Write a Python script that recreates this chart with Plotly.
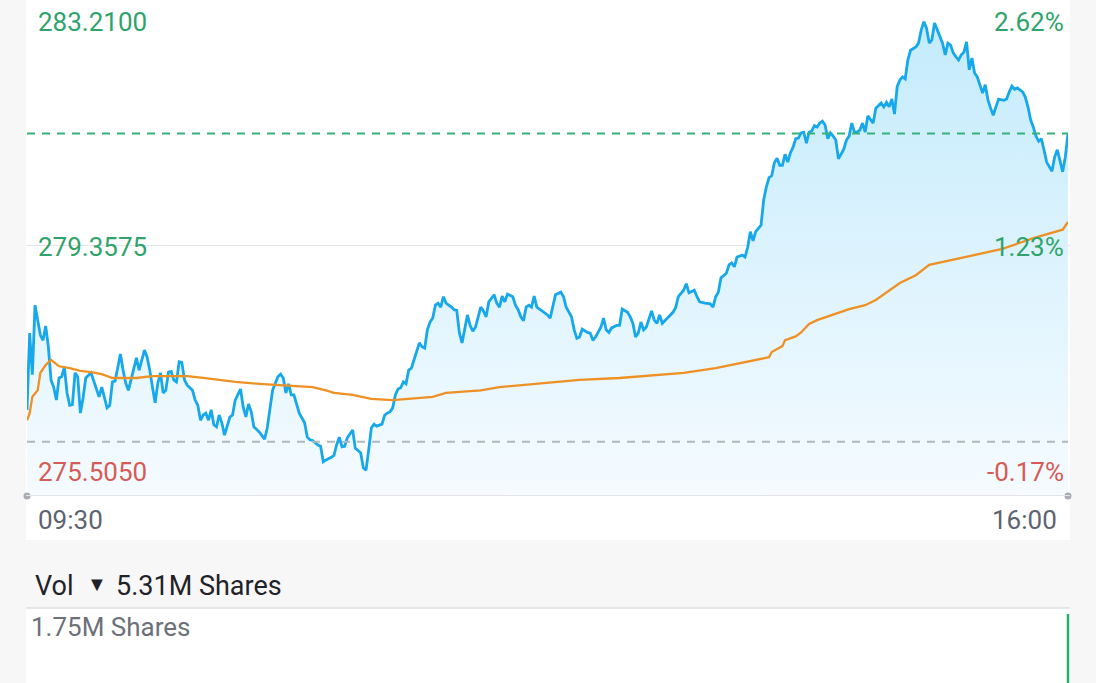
import pandas as pd
import plotly.graph_objects as go

# intraday price, minutes after 09:30
minute = [0, 1, 2, 3, 5, 6, 7, 8, 9, 10, 11, 12, 13, 14, 15, 16, 17, 18, 19, 20, 21, 22, 24, 26, 27, 28, 29, 30,
          31, 32, 33, 35, 36, 37, 38, 40, 41, 42, 43, 44, 45, 46, 47, 48, 49, 50, 51, 52, 53, 54, 55, 56, 57, 58,
          59, 60, 62, 63, 64, 65, 66, 67, 68, 69, 70, 71, 72, 73, 74, 75, 76, 77, 78, 80, 81, 82, 83, 84, 85, 87,
          88, 89, 90, 91, 92, 94, 95, 96, 97, 98, 99, 100, 101, 102, 104, 105, 106, 107, 109, 110, 111, 112, 114,
          115, 116, 117, 118, 119, 120, 122, 123, 124, 125, 126, 127, 128, 129, 130, 131, 133, 134, 135, 136, 137,
          138, 139, 140, 141, 142, 143, 144, 145, 146, 147, 148, 149, 150, 151, 152, 153, 154, 155, 156, 157, 159,
          160, 161, 162, 163, 164, 165, 166, 167, 168, 169, 170, 171, 172, 173, 175, 176, 177, 178, 179, 180, 182,
          183, 184, 185, 186, 187, 188, 189, 190, 191, 192, 194, 195, 196, 197, 198, 200, 201, 202, 204, 205, 206,
          207, 208, 210, 211, 212, 213, 215, 216, 217, 218, 219, 221, 222, 223, 225, 226, 227, 228, 229, 230, 231,
          232, 234, 235, 236, 237, 238, 240, 242, 243, 244, 246, 247, 248, 250, 251, 252, 254, 256, 257, 258, 259,
          260, 262, 263, 264, 265, 266, 268, 269, 270, 271, 272, 273, 274, 275, 276, 277, 278, 279, 280, 281, 282,
          283, 284, 285, 286, 287, 288, 289, 290, 291, 292, 293, 294, 295, 296, 297, 298, 299, 300, 301, 302, 303,
          304, 305, 306, 307, 308, 309, 310, 311, 312, 313, 314, 315, 316, 317, 318, 320, 321, 322, 323, 324, 325,
          326, 327, 328, 329, 330, 331, 333, 334, 335, 336, 337, 338, 339, 340, 341, 343, 344, 345, 346, 347, 348,
          349, 350, 351, 352, 353, 354, 355, 356, 357, 358, 359, 360, 361, 362, 363, 364, 366, 367, 368, 369, 370,
          371, 373, 374, 375, 376, 377, 378, 379, 380, 381, 382, 384, 385, 386, 387, 388, 389, 390]
price = [276.83, 278.01, 277.37, 278.44, 277.98, 277.90, 278.12, 277.80, 277.29, 277.18, 276.98, 277.32, 277.34,
         277.49, 277.09, 276.90, 276.91, 277.40, 277.34, 276.78, 277.01, 277.32, 277.40, 277.14, 277.03, 277.18,
         277.03, 276.86, 276.90, 277.26, 277.27, 277.69, 277.44, 277.24, 277.13, 277.44, 277.63, 277.44, 277.60,
         277.75, 277.64, 277.44, 277.18, 276.94, 277.24, 277.40, 277.09, 277.13, 277.41, 277.42, 277.29, 277.26,
         277.57, 277.56, 277.29, 277.21, 277.13, 276.98, 276.90, 276.67, 276.75, 276.78, 276.67, 276.83, 276.60,
         276.57, 276.75, 276.63, 276.44, 276.57, 276.72, 276.75, 276.98, 277.15, 276.87, 276.72, 276.92, 276.80,
         276.57, 276.49, 276.44, 276.38, 276.55, 276.83, 277.13, 277.34, 277.38, 277.32, 277.09, 277.23, 277.06,
         277.06, 276.90, 276.78, 276.63, 276.41, 276.37, 276.36, 276.29, 276.27, 276.03, 276.06, 276.10, 276.13,
         276.29, 276.41, 276.26, 276.27, 276.40, 276.52, 276.24, 276.21, 276.17, 275.94, 275.90, 276.21, 276.55,
         276.61, 276.58, 276.61, 276.75, 276.78, 276.80, 276.86, 277.06, 277.15, 277.17, 277.26, 277.23, 277.44,
         277.47, 277.60, 277.75, 277.86, 277.80, 277.78, 278.06, 278.18, 278.24, 278.44, 278.47, 278.41, 278.57,
         278.47, 278.41, 278.37, 278.36, 278.01, 277.86, 278.10, 278.29, 278.13, 278.04, 278.10, 278.26, 278.41,
         278.35, 278.26, 278.49, 278.60, 278.47, 278.41, 278.58, 278.49, 278.61, 278.57, 278.44, 278.37, 278.26,
         278.20, 278.41, 278.44, 278.41, 278.58, 278.41, 278.38, 278.33, 278.29, 278.24, 278.41, 278.60, 278.64,
         278.57, 278.41, 278.26, 278.06, 277.93, 277.95, 278.07, 278.02, 278.01, 277.90, 277.95, 278.10, 278.24,
         278.06, 278.02, 278.09, 278.13, 278.13, 278.38, 278.33, 278.26, 278.16, 277.95, 278.01, 278.18, 278.06,
         278.10, 278.35, 278.21, 278.16, 278.29, 278.16, 278.24, 278.33, 278.40, 278.57, 278.67, 278.77, 278.63,
         278.67, 278.57, 278.49, 278.47, 278.46, 278.41, 278.57, 278.64, 278.86, 278.93, 279.06, 279.09, 279.03,
         279.18, 279.21, 279.18, 279.33, 279.57, 279.43, 279.57, 279.63, 279.67, 280.06, 280.26, 280.40, 280.43,
         280.63, 280.70, 280.59, 280.59, 280.76, 280.64, 280.78, 280.87, 281.00, 281.01, 281.09, 281.10, 280.93,
         281.10, 281.12, 281.20, 281.18, 281.24, 281.27, 281.21, 281.00, 281.09, 281.04, 280.98, 280.69, 280.76,
         280.84, 280.98, 281.04, 281.24, 281.10, 281.10, 281.13, 281.24, 281.10, 281.35, 281.30, 281.24, 281.47,
         281.55, 281.49, 281.56, 281.49, 281.61, 281.38, 281.80, 281.90, 281.95, 281.92, 282.21, 282.36, 282.41,
         282.47, 282.67, 282.80, 282.70, 282.47, 282.52, 282.78, 282.67, 282.47, 282.29, 282.47, 282.44, 282.32,
         282.26, 282.21, 282.29, 282.33, 282.49, 282.06, 282.24, 282.01, 281.95, 281.83, 281.70, 281.83, 281.60,
         281.47, 281.36, 281.49, 281.61, 281.59, 281.61, 281.72, 281.81, 281.76, 281.78, 281.72, 281.64, 281.49,
         281.29, 281.18, 281.04, 280.96, 281.00, 280.83, 280.64, 280.50, 280.72, 280.83, 280.67, 280.49, 280.72,
         281.08]

# average price line
vwap_minute = [0, 1, 2, 4, 5, 7, 9, 12, 16, 20, 24, 28, 32, 41, 47, 54, 60, 66, 72, 78, 87, 99, 107, 112, 115,
               122, 129, 137, 144, 152, 157, 170, 177, 192, 207, 222, 237, 246, 258, 267, 275, 278, 279, 283, 284,
               288, 290, 293, 296, 302, 308, 314, 318, 327, 333, 338, 352, 365, 377, 388, 390]
vwap = [276.67, 276.78, 277.03, 277.13, 277.40, 277.52, 277.60, 277.50, 277.47, 277.43, 277.41, 277.38, 277.32,
        277.32, 277.35, 277.35, 277.35, 277.32, 277.29, 277.26, 277.23, 277.20, 277.18, 277.13, 277.09, 277.06,
        277.00, 276.98, 277.00, 277.03, 277.09, 277.13, 277.18, 277.24, 277.29, 277.32, 277.37, 277.40, 277.47,
        277.55, 277.61, 277.64, 277.72, 277.81, 277.90, 277.96, 278.02, 278.15, 278.21, 278.29, 278.38, 278.44,
        278.52, 278.78, 278.90, 279.06, 279.18, 279.30, 279.47, 279.60, 279.72]

vol_minute = [390]
volume = [1.75e6]

hi = 283.21
lo = 275.505
base_close = 275.97
last_price = 281.08
ref_price = 276.34
total_vol = "5.31M Shares"
vol_axis_label = "1.75M Shares"
time_labels = ["09:30", "16:00"]

W, H = 1096, 683
GREEN = "#2fa36b"
RED = "#d65a55"
BLUE = "#16a8ea"
ORANGE = "#ef9024"

day = pd.Timestamp("2024-01-02 09:30")
t = day + pd.to_timedelta(minute, unit="min")
tv = day + pd.to_timedelta(vwap_minute, unit="min")
tvol = day + pd.to_timedelta(vol_minute, unit="min")
t0, t1 = day, day + pd.Timedelta(minutes=390)

def py(p):
    return 1 - p / H

mid = (hi + lo) / 2
y_top = hi - (hi - lo) * 5 / 501
# a little room on the right of the volume axis so the last bar is not cut
px_per_min = (1068 - 27) / 390
t1_vol = t1 + pd.Timedelta(seconds=4 / px_per_min * 60)

fig = go.Figure()

fig.add_trace(go.Scatter(
    x=t, y=price, mode="lines",
    line=dict(color=BLUE, width=2.8),
    fill="tozeroy",
    fillgradient=dict(type="vertical", start=lo, stop=282.8,
                      colorscale=[[0, "rgb(245,251,255)"], [1, "rgb(196,235,252)"]]),
    showlegend=False, hoverinfo="skip"))
fig.add_trace(go.Scatter(
    x=tv, y=vwap, mode="lines",
    line=dict(color=ORANGE, width=2.3),
    showlegend=False, hoverinfo="skip"))
# end dots on the time axis
fig.add_trace(go.Scatter(
    x=[t0, t1], y=[lo, lo], mode="markers",
    marker=dict(color="#a9adb3", size=7),
    cliponaxis=False, showlegend=False, hoverinfo="skip"))

# volume bars drawn as vertical strokes
for tt, v in zip(tvol, volume):
    fig.add_trace(go.Scatter(
        x=[tt, tt], y=[0, v], mode="lines", line=dict(color="#2bab6c", width=2.5),
        xaxis="x2", yaxis="y2", showlegend=False, hoverinfo="skip"))

shapes = [
    # white panels
    dict(type="rect", xref="paper", yref="paper", x0=26 / W, x1=1070 / W, y0=py(540), y1=1,
         fillcolor="white", line=dict(width=0), layer="below"),
    dict(type="rect", xref="paper", yref="paper", x0=26 / W, x1=1070 / W, y0=0, y1=py(608),
         fillcolor="white", line=dict(width=0), layer="below"),
    dict(type="line", xref="paper", yref="paper", x0=26 / W, x1=1070 / W, y0=py(608), y1=py(608),
         line=dict(color="#dedfe2", width=1.5)),
    # middle grid
    dict(type="line", xref="paper", yref="y", x0=26 / W, x1=1070 / W, y0=mid, y1=mid,
         line=dict(color="#e3e5e8", width=1), layer="below"),
    # bottom axis line
    dict(type="line", xref="paper", yref="y", x0=26 / W, x1=1070 / W, y0=lo, y1=lo,
         line=dict(color="#e4e5e7", width=2)),
    dict(type="line", xref="x", yref="y", x0=t0, x1=t1, y0=ref_price, y1=ref_price,
         line=dict(color="#b1b7c1", width=2, dash="8px,7px")),
    dict(type="line", xref="x", yref="y", x0=t0, x1=t1, y0=last_price, y1=last_price,
         line=dict(color="#35b27a", width=2, dash="8px,7px")),
]

FONT = "Roboto"
ann = []
def label(text, x, y, color, size=26, anchor="left"):
    ann.append(dict(text=text, x=x / W, y=py(y), xref="paper", yref="paper", showarrow=False,
                    xanchor=anchor, yanchor="middle", font=dict(family=FONT, size=size, color=color)))

def pct(v):
    return f"{(v / base_close - 1) * 100:.2f}%"

label(f"{hi:.4f}", 36, 22, GREEN)
label(f"{mid:.4f}", 36, 247, GREEN)
label(f"{lo:.4f}", 36, 472, RED)
label(pct(hi), 1066, 22, GREEN, anchor="right")
label(pct(mid), 1066, 247, GREEN, anchor="right")
label(pct(lo), 1066, 472, RED, anchor="right")
label(time_labels[0], 36, 520, "#5d6370")
label(time_labels[1], 1059, 520, "#5d6370", anchor="right")
label("Vol", 33, 586, "#1f2329", size=27)
label("▼", 85, 584, "#1f2329", size=20)
label(total_vol, 114, 586, "#1f2329", size=27)
label(vol_axis_label, 29, 627, "#6b7079", size=26)

fig.update_layout(
    width=W, height=H,
    margin=dict(l=0, r=0, t=0, b=0),
    paper_bgcolor="#f7f7f7", plot_bgcolor="rgba(0,0,0,0)",
    xaxis=dict(domain=[27 / W, 1068 / W], range=[t0, t1], visible=False),
    yaxis=dict(domain=[py(496), 1], range=[lo, y_top], visible=False),
    xaxis2=dict(domain=[27 / W, 1072 / W], range=[t0, t1_vol], visible=False, anchor="y2"),
    yaxis2=dict(domain=[0, py(614)], range=[0, volume[0]], visible=False, anchor="x2"),
    shapes=shapes, annotations=ann,
)

fig.write_html("out.html", config={"displayModeBar": False},
               post_script="document.body.style.margin='0px';")
